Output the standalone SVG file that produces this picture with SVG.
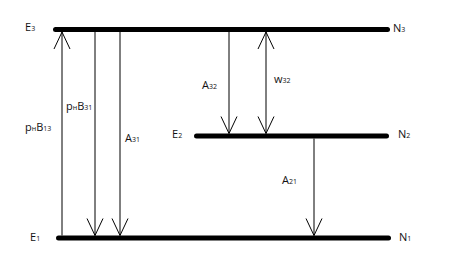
<svg xmlns="http://www.w3.org/2000/svg" width="450" height="259" viewBox="0 0 450 259">
<style>
.lvl{stroke:#000;stroke-width:5;stroke-linecap:round;fill:none}
.ar{stroke:#000;stroke-width:1;fill:none}
text{font-family:"Open Sans","Liberation Sans",sans-serif;font-size:11px;fill:#111}
.s{font-size:7px}
</style>
<defs>
<marker id="v" markerUnits="userSpaceOnUse" viewBox="-18 -9 19 18" refX="0" refY="0" markerWidth="19" markerHeight="18" orient="auto-start-reverse">
<path d="M-17,-8 L0,0 L-17,8" fill="none" stroke="#000" stroke-width="1"/>
</marker>
</defs>
<g id="level-E3"><line class="lvl" x1="55.5" y1="29.5" x2="387.5" y2="29.5"/><text x="25" y="31">E<tspan class="s">3</tspan></text><text x="393" y="32">N<tspan class="s">3</tspan></text></g>
<g id="level-E2"><line class="lvl" x1="196.5" y1="136" x2="386.5" y2="136"/><text x="172" y="138">E<tspan class="s">2</tspan></text><text x="398" y="138">N<tspan class="s">2</tspan></text></g>
<g id="level-E1"><line class="lvl" x1="58.5" y1="238" x2="388.5" y2="238"/><text x="30" y="241">E<tspan class="s">1</tspan></text><text x="399" y="241">N<tspan class="s">1</tspan></text></g>
<g id="connectors">
<line class="ar" x1="62" y1="235.5" x2="62" y2="32" marker-end="url(#v)"/>
<line class="ar" x1="95" y1="32" x2="95" y2="235.5" marker-end="url(#v)"/>
<line class="ar" x1="120" y1="32" x2="120" y2="235.5" marker-end="url(#v)"/>
<line class="ar" x1="229" y1="32" x2="229" y2="133.5" marker-end="url(#v)"/>
<line class="ar" x1="266" y1="133.5" x2="266" y2="32" marker-start="url(#v)" marker-end="url(#v)"/>
<line class="ar" x1="314" y1="138.5" x2="314" y2="235.5" marker-end="url(#v)"/>
</g>
<g id="labels">
<text x="25" y="131">p<tspan class="s">н</tspan>B<tspan class="s">13</tspan></text>
<text x="66" y="110">p<tspan class="s">н</tspan>B<tspan class="s">31</tspan></text>
<text x="125" y="142">A<tspan class="s">31</tspan></text>
<text x="202" y="89">A<tspan class="s">32</tspan></text>
<text x="274" y="83">w<tspan class="s">32</tspan></text>
<text x="282" y="184">A<tspan class="s">21</tspan></text>
</g>
</svg>
